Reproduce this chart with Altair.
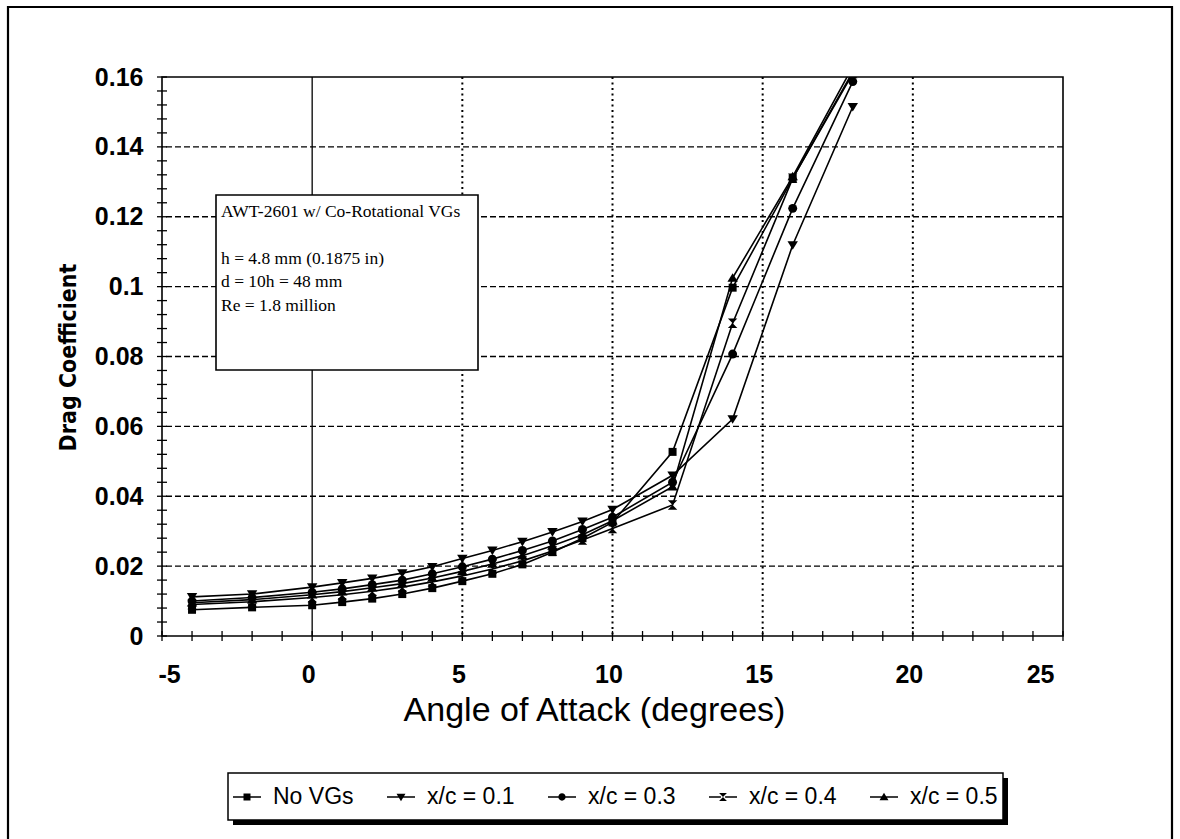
import altair as alt
import pandas as pd

# ---------------- data ----------------
alpha = [-4, -2, 0, 1, 2, 3, 4, 5, 6, 7, 8, 9, 10, 12, 14, 16, 18]
series_names = ["No VGs", "x/c = 0.1", "x/c = 0.3", "x/c = 0.4", "x/c = 0.5"]
cd_no_vgs = [0.0075, 0.0082, 0.0088, 0.0097, 0.0107, 0.0120, 0.0137, 0.0157, 0.0178,
             0.0205, 0.0240, 0.0280, 0.0325, 0.0527, 0.0997, 0.1310, 0.1615]
cd_xc01 = [0.0112, 0.0120, 0.0140, 0.0152, 0.0165, 0.0180, 0.0198, 0.0222, 0.0245,
           0.0270, 0.0298, 0.0328, 0.0362, 0.0460, 0.0621, 0.1119, 0.1515]
cd_xc03 = [0.0100, 0.0110, 0.0125, 0.0135, 0.0147, 0.0160, 0.0178, 0.0198, 0.0220,
           0.0245, 0.0272, 0.0305, 0.0340, 0.0440, 0.0807, 0.1224, 0.1587]
cd_xc04 = [0.0090, 0.0098, 0.0110, 0.0118, 0.0128, 0.0140, 0.0155, 0.0172, 0.0192,
           0.0215, 0.0243, 0.0275, 0.0308, 0.0375, 0.0895, 0.1310, 0.1610]
cd_xc05 = [0.0095, 0.0104, 0.0118, 0.0127, 0.0138, 0.0150, 0.0166, 0.0185, 0.0206,
           0.0230, 0.0258, 0.0290, 0.0330, 0.0427, 0.1025, 0.1315, 0.1630]

x_label_values = [-5, 0, 5, 10, 15, 20, 25]
y_label_values = [0, 0.02, 0.04, 0.06, 0.08, 0.10, 0.12, 0.14, 0.16]
x_tick_positions = list(range(-5, 26))
y_tick_positions = [round(i * 0.004, 3) for i in range(41)]
x_grid_dotted = [5, 10, 15, 20]
x_grid_solid = [0]
y_grid_dashed = [0.02, 0.04, 0.06, 0.08, 0.10, 0.12, 0.14]

note_title = "AWT-2601 w/ Co-Rotational VGs"
note_lines = ["h = 4.8 mm (0.1875 in)", "d = 10h = 48 mm", "Re = 1.8 million"]

# ---------------- build tables ----------------
rows = []
for name, vals in zip(series_names, [cd_no_vgs, cd_xc01, cd_xc03, cd_xc04, cd_xc05]):
    for a, v in zip(alpha, vals):
        rows.append({"series": name, "alpha": a, "cd": v})
df = pd.DataFrame(rows)

W, H = 901, 559
SANS = "Liberation Sans"
NBSP = "\u00a0"

x_scale = alt.Scale(domain=[-5, 25], nice=False, zero=False)
y_scale = alt.Scale(domain=[0, 0.16], nice=False, zero=False)

x_axis = alt.Axis(
    values=x_label_values, grid=False, ticks=False, domain=False,
    labelFont=SANS, labelFontSize=25, labelFontWeight="bold", labelColor="black",
    labelPadding=26,
    labelExpr="datum.value == -5 ? '-5" + NBSP * 3 + "' : '' + datum.value",
    labelOffset=alt.condition("datum.value == 25", alt.value(-9), alt.value(-4)),
    title="Angle of Attack (degrees)", titleFont=SANS, titleFontSize=34,
    titleFontWeight="normal", titleColor="black", titleX=432, titleY=74,
    titleBaseline="middle", titleAlign="center",
)
y_axis = alt.Axis(
    values=y_label_values, grid=False, ticks=False, domain=False,
    labelFont=SANS, labelFontSize=25, labelFontWeight="bold", labelColor="black",
    labelPadding=19, labelExpr="format(datum.value, '.2~f')",
    title="Drag Coefficient", titleFont="DejaVu Sans Condensed", titleFontSize=23,
    titleFontWeight="bold", titleColor="black", titleX=-94, titleY=280,
    titleBaseline="middle", titleAlign="center",
)

X = alt.X("alpha:Q", scale=x_scale, axis=x_axis)
Y = alt.Y("cd:Q", scale=y_scale, axis=y_axis)

one = alt.Data(values=[{"k": 1}])

# grid
ygrid = alt.Chart(pd.DataFrame({"cd": y_grid_dashed})).mark_rule(
    color="black", strokeWidth=1.4, strokeDash=[6, 3]).encode(y=Y)
xgrid_dot = alt.Chart(pd.DataFrame({"alpha": x_grid_dotted})).mark_rule(
    color="black", strokeWidth=2, strokeDash=[2, 3.5]).encode(x=X)
xgrid_solid = alt.Chart(pd.DataFrame({"alpha": x_grid_solid})).mark_rule(
    color="black", strokeWidth=1.3).encode(x=X)

# ticks crossing the axes
xticks = alt.Chart(pd.DataFrame({"alpha": x_tick_positions})).mark_rule(
    color="black", strokeWidth=1.3).encode(x=X, y=alt.value(H - 5), y2=alt.value(H + 5))
yticks = alt.Chart(pd.DataFrame({"cd": y_tick_positions})).mark_rule(
    color="black", strokeWidth=1.3).encode(y=Y, x=alt.value(-5), x2=alt.value(5))

# annotation box
note_box = alt.Chart(one).mark_rect(fill="white", stroke="black", strokeWidth=1.6).encode(
    x=alt.value(54), x2=alt.value(316), y=alt.value(118), y2=alt.value(293))
note_head = alt.Chart(one).mark_text(
    align="left", baseline="middle", font="Liberation Serif", fontSize=17.5,
    color="black").encode(x=alt.value(59), y=alt.value(135), text=alt.value(note_title))
note_body = alt.Chart(one).mark_text(
    align="left", baseline="top", font="Liberation Serif", fontSize=17.5,
    lineHeight=23.3, color="black").encode(
    x=alt.value(59), y=alt.value(173), text=alt.value(note_lines))

# data lines and markers
lines = alt.Chart(df).mark_line(color="black", strokeWidth=1.6, clip=True).encode(
    x=X, y=Y, detail="series:N", order="alpha:Q")

marker_paths = [
    "M-1,-1H1V1H-1Z",
    "M-1.1,-0.8L1.1,-0.8L0,1Z",
    "circle",
    "M-1,-1L1,-1L-1,1L1,1Z",
    "M0,-1L1.1,0.8L-1.1,0.8Z",
]
marker_sizes = [64, 90, 80, 90, 90]
point_layers = []
for name, path, sz in zip(series_names, marker_paths, marker_sizes):
    point_layers.append(
        alt.Chart(df).transform_filter(alt.datum.series == name).mark_point(
            shape=path, filled=True, color="black", size=sz, opacity=1, clip=True
        ).encode(x=X, y=Y)
    )

# outer frame
frame = alt.Chart(one).mark_rect(fillOpacity=0, stroke="black", strokeWidth=2.2).encode(
    x=alt.value(-154), x2=alt.value(1010), y=alt.value(-70), y2=alt.value(800))

# legend box with shadow
legend_shadow = alt.Chart(one).mark_rect(fill="black").encode(
    x=alt.value(71), x2=alt.value(846), y=alt.value(701), y2=alt.value(748))
legend_box = alt.Chart(one).mark_rect(fill="white", stroke="black", strokeWidth=1.5).encode(
    x=alt.value(66), x2=alt.value(841), y=alt.value(696), y2=alt.value(743))

# legend symbols: short line (as thin filled bars) with the marker in the middle
LINE = "M-1,-0.05H-0.15V0.05H-1Z M0.15,-0.05H1V0.05H0.15Z "
legend_paths = [
    LINE + "M-0.25,-0.25H0.25V0.25H-0.25Z",
    LINE + "M-0.32,-0.23L0.32,-0.23L0,0.3Z",
    LINE + "M0.26,0A0.26,0.26 0 1,1 -0.26,0A0.26,0.26 0 1,1 0.26,0Z",
    LINE + "M-0.28,-0.28L0.28,-0.28L-0.28,0.28L0.28,0.28Z",
    LINE + "M0,-0.3L0.32,0.23L-0.32,0.23Z",
]
legend_layer = alt.Chart(df).transform_filter("false").mark_point(
    filled=True, color="black", opacity=1
).encode(
    x=X, y=Y,
    shape=alt.Shape(
        "series:N",
        scale=alt.Scale(domain=series_names, range=legend_paths),
        legend=alt.Legend(
            title=None, orient="none", legendX=71, legendY=706, direction="horizontal",
            columns=5, symbolSize=784, symbolFillColor="black", symbolStrokeWidth=0,
            symbolOpacity=1, labelFont=SANS, labelFontSize=23,
            labelColor="black", labelOffset=12, columnPadding=33, padding=0,
            labelLimit=300,
        ),
    ),
)

chart = alt.layer(
    ygrid, xgrid_dot, xgrid_solid, note_box, note_head, note_body, lines, *point_layers,
    xticks, yticks, frame, legend_shadow, legend_box, legend_layer,
).properties(
    width=W, height=H,
    autosize=alt.AutoSizeParams(type="none"),
    padding={"left": 162, "top": 77, "right": 117, "bottom": 203},
    background="white",
).configure_view(stroke="black", strokeWidth=1.6)

chart.save("out.html", embed_options={"renderer": "svg", "actions": False})
